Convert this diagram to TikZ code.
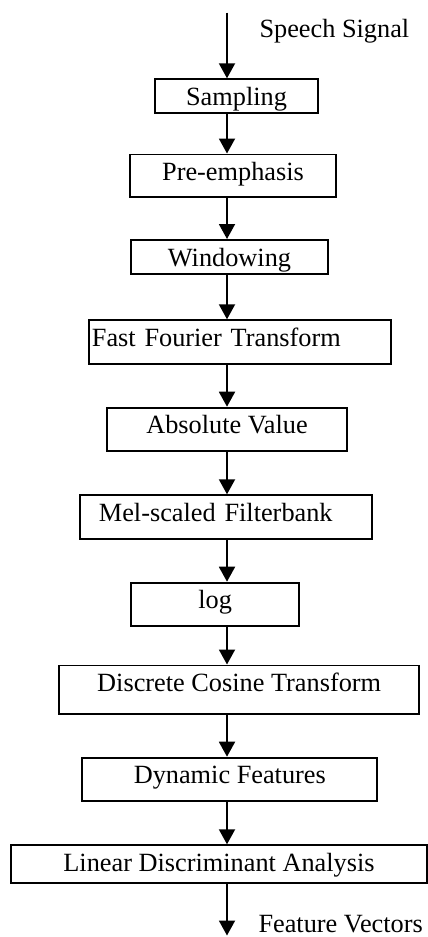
\documentclass[tikz,border=0pt]{standalone}
\usepackage{fontspec}
\setmainfont{Liberation Serif}
\usetikzlibrary{arrows.meta,calc}

\begin{document}
\begin{tikzpicture}[x=1pt,y=-1pt,
  every node/.style={font=\fontsize{26.3}{30}\selectfont},
  % processing step: caption hangs a fixed distance below the top edge
  stepbox/.style={draw, line width=1.8pt, inner ysep=0pt, inner xsep=0pt,
    text height=26.3pt, anchor=north},
  leftbox/.style={stepbox, anchor=north west, align=left},
  flow/.style={line width=1.9pt, -{Triangle[width=16pt,length=15pt]}}
]
% page
\fill[white] (0,0) rectangle (428,937);
\useasboundingbox (0,0) rectangle (428,937);

% signal path
\coordinate (src) at (227,12.7);
\coordinate (sink) at (227,935.5);

% processing chain
\node[stepbox, minimum width=163pt, text depth=7.7pt]  (samp) at (236.5,78.3) {Sampling};
\node[stepbox, minimum width=206pt, text depth=16.2pt] (pre)  at (233,153.5) {Pre-emphasis};
\node[stepbox, minimum width=197pt, text depth=7.4pt]  (win)  at (229.5,239) {Windowing};
\node[leftbox, inner xsep=3pt, text width=296pt, text depth=17.7pt] (fft) at (88,319.3) {Fast Fourier Transform};
\node[stepbox, minimum width=240.6pt, text depth=17.3pt] (abs) at (227,406.7) {Absolute Value};
\node[leftbox, inner xsep=19pt, text width=254pt, text depth=17.7pt] (mel) at (79,494.3) {Mel-scaled Filterbank};
\node[stepbox, minimum width=168.3pt, text depth=17pt] (log) at (215.2,581.7) {log};
\node[stepbox, minimum width=360.3pt, text depth=21.9pt] (dct) at (239.2,664.5) {Discrete Cosine Transform};
\node[stepbox, minimum width=295pt, text depth=17pt] (dyn) at (229.8,756.7) {Dynamic Features};
\node[stepbox, minimum width=416pt, text depth=11.4pt] (lda) at (219,844.3) {Linear Discriminant Analysis};

% input and output captions
\node[anchor=base west, inner sep=0pt] (in)  at (259.3,37.7) {Speech Signal};
\node[anchor=base west, inner sep=0pt] (out) at (258.3,932.5) {Feature Vectors};

% connectors
\draw[flow] (src) -- (samp.north -| src);
\draw[flow] (samp.south -| src) -- (pre.north -| src);
\draw[flow] (pre.south -| src) -- (win.north -| src);
\draw[flow] (win.south -| src) -- (fft.north -| src);
\draw[flow] (fft.south -| src) -- (abs.north -| src);
\draw[flow] (abs.south -| src) -- (mel.north -| src);
\draw[flow] (mel.south -| src) -- (log.north -| src);
\draw[flow] (log.south -| src) -- (dct.north -| src);
\draw[flow] (dct.south -| src) -- (dyn.north -| src);
\draw[flow] (dyn.south -| src) -- (lda.north -| src);
\draw[flow] (lda.south -| src) -- (sink);
\end{tikzpicture}
\end{document}
